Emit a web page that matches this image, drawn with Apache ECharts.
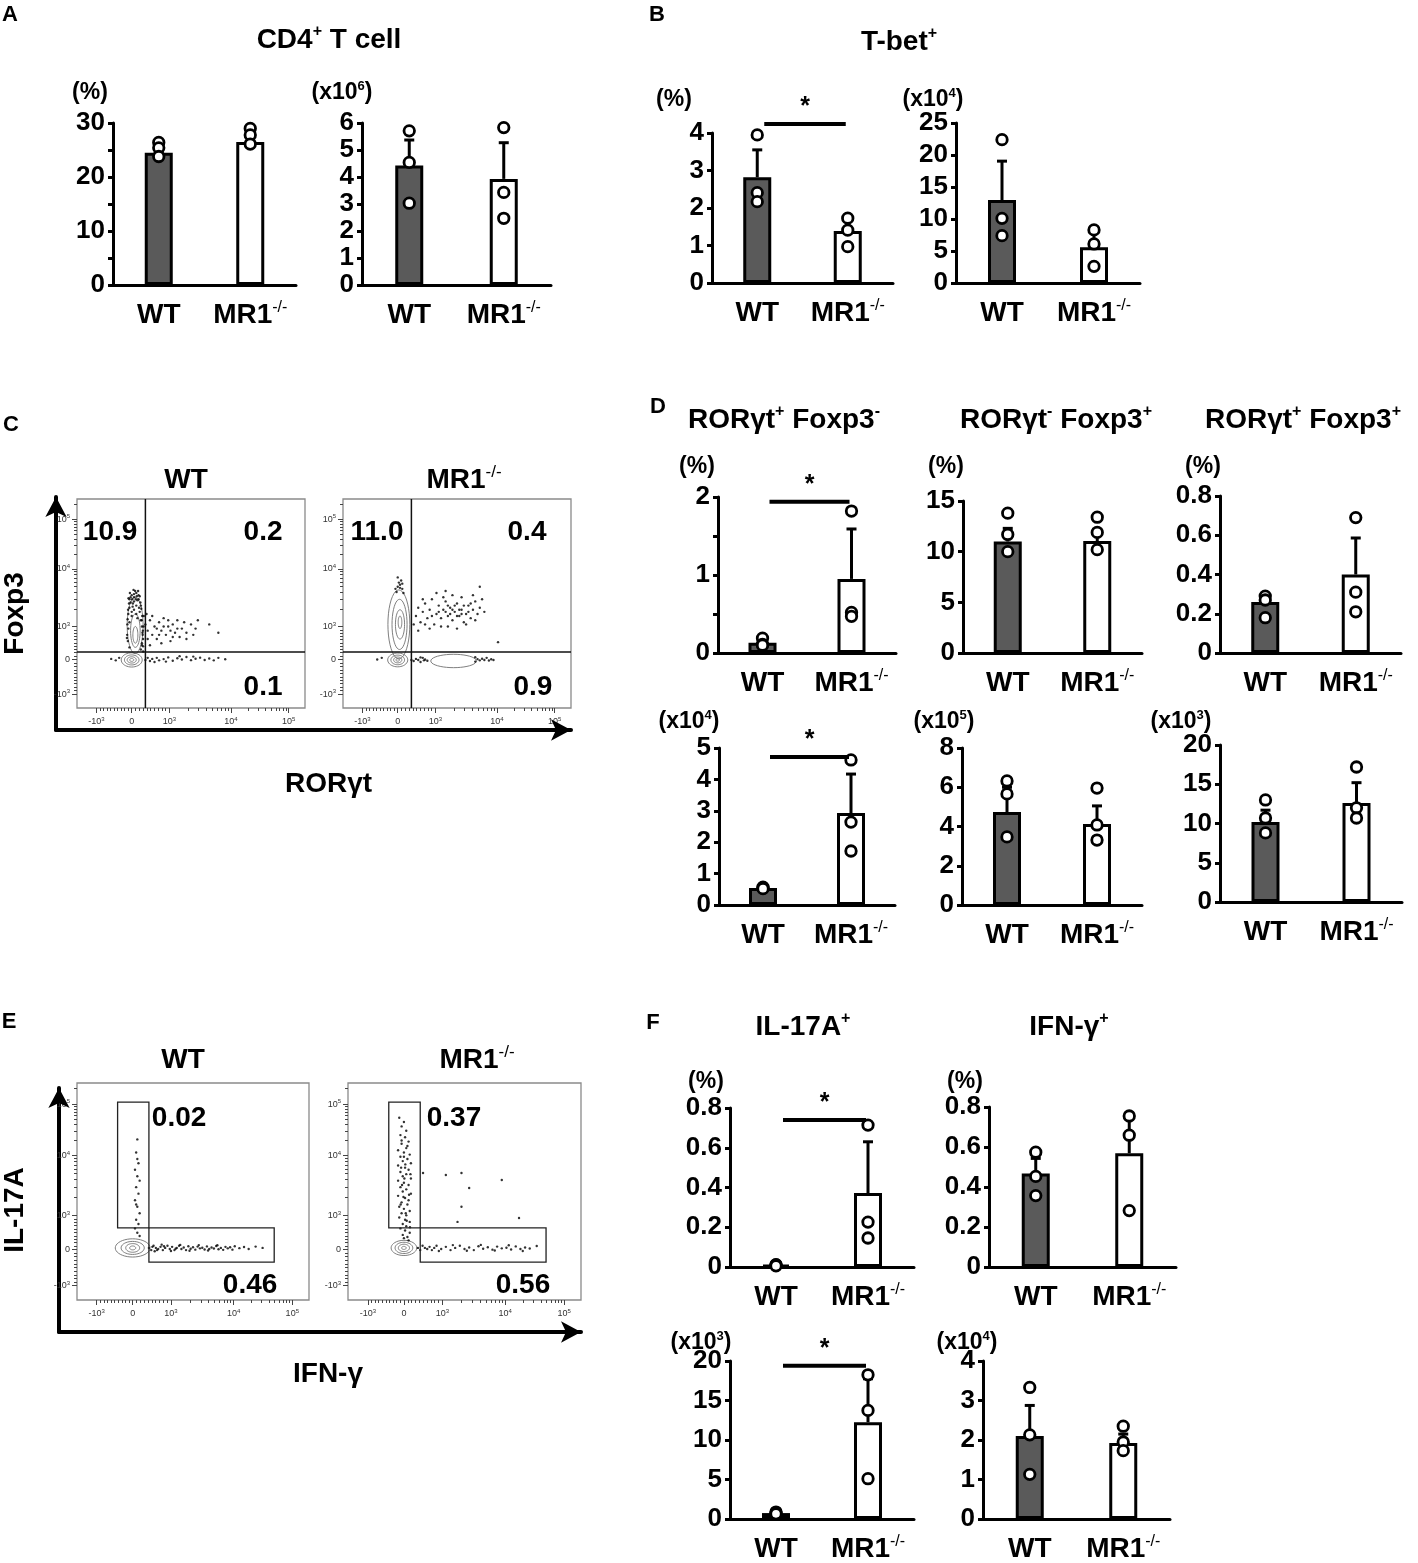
<!DOCTYPE html>
<html>
<head>
<meta charset="utf-8">
<script src="https://cdn.jsdelivr.net/npm/echarts@6/dist/echarts.min.js"></script>
<style>
html, body { margin: 0; background: #fff; }
#main { width: 1418px; height: 1563px; }
</style>
</head>
<body>
<div id="main"></div>
<script>
'use strict';

var FONT = '"Liberation Sans", Arial, Helvetica, sans-serif';
var groups = ['WT', 'MR1-/-'];

// A: CD4+ T cell (% / x10^6)
var a1Mean = [24.5, 26.5], a1Err = [25.8, 28.0], a1Pts = [[26.4, 25.4, 23.8], [29.0, 27.8, 26.1]];
var a2Mean = [4.43, 3.93], a2Err = [5.37, 5.27], a2Pts = [[5.71, 4.54, 3.03], [5.83, 3.43, 2.47]];
// B: T-bet+
var b1Mean = [2.82, 1.39], b1Err = [3.55, 1.75], b1Pts = [[3.95, 2.41, 2.17], [1.73, 1.41, 0.97]];
var b2Mean = [12.97, 5.6], b2Err = [19.04, 8.4], b2Pts = [[22.4, 10.1, 7.4], [8.3, 6.1, 2.6]];
// D: RORgt+ Foxp3- / RORgt- Foxp3+ / RORgt+ Foxp3+
var d1Mean = [0.13, 0.95], d1Err = [0.17, 1.59], d1Pts = [[0.19, 0.11, 0.10], [1.82, 0.52, 0.47]];
var d2Mean = [11.0, 11.05], d2Err = [12.3, 12.2], d2Pts = [[13.8, 11.7, 10.0], [13.4, 11.9, 10.2]];
var d3Mean = [0.26, 0.40], d3Err = [0.30, 0.586], d3Pts = [[0.29, 0.27, 0.18], [0.69, 0.31, 0.21]];
var d4Mean = [0.54, 2.93], d4Err = [0.58, 4.17], d4Pts = [[0.57, 0.54, 0.52], [4.62, 2.64, 1.72]];
var d5Mean = [4.74, 4.13], d5Err = [6.0, 5.05], d5Pts = [[6.32, 5.66, 3.47], [5.96, 4.08, 3.31]];
var d6Mean = [10.2, 12.6], d6Err = [11.7, 15.2], d6Pts = [[13.0, 10.7, 8.8], [17.2, 12.0, 10.7]];
// F: IL-17A+ / IFN-g+
var f1Mean = [0.01, 0.372], f1Err = [0.015, 0.63], f1Pts = [[0.012, 0.01, 0.006], [0.714, 0.226, 0.146]];
var f2Mean = [0.468, 0.569], f2Err = [0.543, 0.765], f2Pts = [[0.574, 0.453, 0.357], [0.755, 0.659, 0.282]];
var f3Mean = [0.75, 12.25], f3Err = [0.8, 17.75], f3Pts = [[0.88, 0.7, 0.65], [18.25, 13.75, 5.1]];
var f4Mean = [2.1, 1.925], f4Err = [2.875, 2.15], f4Pts = [[3.33, 2.13, 1.13], [2.35, 1.95, 1.73]];
// significance bars (*)
var b1Sig = 4.24, d1Sig = 1.94, d4Sig = 4.71, f1Sig = 0.74, f3Sig = 19.4;

// flow plots, display scale 0-100 on both axes
var flowXTicks = [8.5, 24, 40.5, 67.5, 92.8];
var flowYTicks = [6.6, 23.3, 39, 66.5, 90.3];
var flowTickText = ['-10^3', '0', '10^3', '10^4', '10^5'];

// C: Foxp3 vs RORgt
var cQuad = [[30, 0, 30, 100], [0, 26.8, 100, 26.8]];
var cWtPct = [[14.5, 84.2, '10.9'], [81.6, 84.2, '0.2'], [81.6, 10, '0.1']];
var cKoPct = [[14.9, 84.2, '11.0'], [80.7, 84.2, '0.4'], [83.3, 10, '0.9']];
var cWtContours = [[24, 23, 4.6, 3.4], [24, 23, 3.2, 2.4], [24, 23, 2, 1.5], [24, 23, 0.9, 0.7],
    [25.5, 39.5, 3.5, 13.5], [25.6, 37, 2.1, 8], [25.6, 35, 1.1, 4]];
var cKoContours = [[24, 23, 4.4, 3.3], [24, 23, 3, 2.3], [24, 23, 1.8, 1.4], [24, 23, 0.8, 0.6],
    [24.5, 40, 4.8, 16.5], [24.8, 40, 3.3, 12], [25, 40, 2, 7], [25, 41, 0.8, 3], [48.5, 22.5, 10, 3.2]];
var cWtDots = [
    [23, 52], [24, 54], [25, 53], [26, 55], [27, 52], [24.5, 50], [26, 49], [23, 48], [28, 49], [25, 47],
    [22.5, 45], [27.5, 46], [24, 44], [26.5, 43], [23, 41], [28, 42], [22.5, 38], [28.5, 39], [22, 35], [28.8, 35],
    [22.3, 32], [28.5, 31], [23, 29], [28, 28], [25, 51], [26.5, 51.5], [23.5, 50.5], [27, 54], [25.5, 56], [24, 46],
    [26, 45], [23.5, 53], [22.8, 50], [27.8, 50.5], [25, 54.5], [24.2, 52], [26.2, 53.5], [22.4, 47], [28.2, 47.5],
    [23.2, 55], [24.8, 56.5], [26.8, 56], [27.5, 53.5], [22.6, 52.5], [25.8, 52], [24.4, 48.5], [27.2, 48],
    [22.2, 42.5], [28.6, 44], [22.1, 40], [28.9, 37], [21.9, 33.5], [29, 29.5],
    [28.5, 30], [29, 33], [28.7, 36], [29.2, 39], [28.4, 42], [29, 27], [29.3, 44],
    [30, 40], [31, 37], [32, 42], [33, 35], [34, 39], [35, 33], [36, 41], [37, 37], [38, 43], [39, 35],
    [40, 39], [41, 32], [42, 40], [43, 36], [44, 42], [45, 34], [46, 38], [47, 41], [48, 36], [50, 40],
    [52, 38], [53, 42], [31, 33], [33, 44], [35, 38], [37, 31], [40, 42], [42, 34], [44, 38], [30.5, 45],
    [32, 30], [36, 35], [38, 39], [41, 37], [48, 33], [51, 35], [58, 40], [62, 36],
    [30, 23], [31, 24], [32, 22.5], [33, 23.5], [35, 24], [36, 22.8], [38, 23.4], [40, 24.2], [42, 22.6], [44, 23.8],
    [46, 23.2], [48, 24.4], [50, 22.9], [52, 23.6], [54, 24.1], [56, 23], [58, 23.7], [60, 22.8], [62, 24], [65, 23.3],
    [34, 22], [39, 22.2], [45, 24.8], [51, 24.6], [15, 23.5], [17, 22.8], [18.5, 24]
];
var cKoDots = [
    [23, 57], [24, 58], [25, 59], [26, 57], [24.5, 60], [25.5, 61], [23.5, 55.5], [26.5, 55], [24, 62.5], [25, 57.5],
    [26, 59.5],
    [32, 44], [33, 48], [34, 41], [35, 46], [36, 50], [37, 43], [38, 47], [39, 52], [40, 40], [41, 45],
    [42, 49], [43, 43], [44, 47], [45, 51], [46, 44], [47, 48], [48, 42], [49, 46], [50, 50], [51, 44],
    [52, 47], [53, 41], [54, 45], [55, 49], [56, 43], [57, 47], [58, 51], [59, 45], [60, 48], [44, 53],
    [48, 54], [52, 53], [46, 39], [50, 38], [54, 40], [38, 38], [35, 52], [41, 55], [57, 54], [31, 40],
    [33, 37], [45, 46], [47, 45], [49, 49], [51, 47], [53, 49], [55, 46], [50, 44], [48, 47], [52, 45],
    [46, 49], [56, 50], [42, 46], [39, 44], [36, 40], [61, 52], [58, 42], [43, 39], [62, 46], [45, 56],
    [68, 31.5], [60, 58],
    [30, 23], [31, 22.5], [32, 23.5], [33, 23], [34, 22], [35, 24], [36, 23.2], [37, 22.6], [59, 23.4], [60, 22.8],
    [61, 23.6], [62, 23], [63, 24], [64, 22.7], [65, 23.3], [66, 23], [58, 22.2], [58, 24.3], [35.5, 22.8], [34, 24.2],
    [15, 23.2], [17, 24]
];

// E: IL-17A vs IFN-g
var eGates = [[17.5, 33.2, 31, 91.2], [31, 17.5, 85, 33.2]];
var eWtPct = [[44, 83.9, '0.02'], [74.6, 6.9, '0.46']];
var eKoPct = [[45.5, 83.9, '0.37'], [75.1, 6.9, '0.56']];
var eWtContours = [[24, 24, 7.5, 4.2], [24, 24, 5, 3], [24, 24, 3, 2], [24, 24, 1.3, 0.9]];
var eKoContours = [[24, 24, 5.5, 3.5], [24, 24, 3.8, 2.6], [24, 24, 2.4, 1.7], [24, 24, 1, 0.7]];
var eWtDots = [
    [26, 74], [25.5, 68], [26.5, 63], [25, 60], [26, 57], [27, 55], [25.5, 52], [26.5, 49], [25, 46], [26, 43],
    [27, 40], [25.5, 37], [26.5, 35], [25, 33], [26, 31], [27, 29.5], [26, 65], [25.5, 44],
    [31, 24], [32, 23], [33, 25], [34, 24], [35, 23.5], [36, 24.5], [37, 23], [38, 24], [39, 25], [40, 23.5],
    [41, 24.5], [42, 23], [43, 24], [44, 25], [45, 23.5], [46, 24.2], [47, 23], [48, 24.8], [49, 23.6], [50, 24.3],
    [51, 23.2], [52, 24.6], [53, 23.8], [54, 24.1], [55, 23.3], [56, 24.7], [57, 23.5], [58, 24.2], [59, 23.7], [60, 24.9],
    [61, 23.4], [62, 24], [63, 23.1], [64, 24.5], [65, 23.8], [66, 24.3], [67, 23.2], [68, 24.8], [70, 23.9], [72, 24.4],
    [74, 23.5], [77, 24.6], [80, 24], [33.5, 22.5], [36.5, 25.5], [40.5, 22.6], [44.5, 25.4], [48.5, 22.7], [52.5, 25.3],
    [56.5, 22.8], [60.5, 25.2], [32.5, 24.5], [34.5, 23], [37.5, 24.8], [42.5, 23.6]
];
var eKoDots = [
    [22, 84], [24, 82], [23, 80], [25, 78], [22.5, 76], [24.5, 75], [26, 73], [23, 72], [25, 70], [21.5, 69],
    [24, 68], [26.5, 67], [22.5, 66], [25.5, 65], [23.5, 64], [27, 63], [21.5, 62], [24.5, 61], [26, 60], [22.5, 59],
    [25, 58], [23.5, 57], [27, 56], [21.5, 55], [24, 54], [26, 53], [22.5, 52], [25, 51], [23.5, 50], [27, 49],
    [21.5, 48], [24.5, 47], [26, 46], [23, 45], [25.5, 44], [22, 43], [24, 42], [26.5, 41], [23, 40], [25, 39],
    [22, 38], [24.5, 37], [26.5, 36], [23.5, 35], [25, 34], [22.5, 33], [24.5, 32], [26.5, 31], [23.5, 30], [25.5, 29],
    [24, 28.5], [26, 27.5], [23, 73.5], [25.5, 71], [24, 66], [22.8, 61], [26.8, 58], [23.2, 53], [26.2, 48.5], [22.6, 44],
    [24.8, 40], [26.6, 33.5], [24.2, 56], [23.8, 47.5], [25.2, 36.5], [24.6, 62.5],
    [30, 24], [31, 23], [32, 25], [33, 24], [34, 23.5], [35, 24.5], [36, 23], [37, 24], [38, 25], [40, 23.5],
    [42, 24.5], [44, 23], [46, 24], [48, 25], [50, 23.5], [52, 24.2], [54, 23], [56, 24.8], [58, 23.6], [60, 24.3],
    [62, 23.2], [64, 24.6], [66, 23.8], [68, 24.1], [70, 23.3], [72, 24.7], [74, 23.5], [76, 24.2], [78, 23.7], [81, 24.9],
    [39, 22.6], [45, 25.3], [51, 22.7], [57, 25.4], [63, 22.8], [69, 25.2], [75, 22.6],
    [32.2, 58.5], [42, 57.6], [48.7, 58.5], [52, 51.6], [66, 55.3], [48.7, 43], [73.4, 37.8], [47, 36]
];

// ---------- layout ----------
var barLayout = [
    { l: 113, r: 296, t: 123, b: 285, max: 30, step: 5, every: 10 },
    { l: 362, r: 551, t: 123, b: 285, max: 6, step: 1 },
    { l: 712, r: 893, t: 133, b: 283, max: 4, step: 1 },
    { l: 956, r: 1140, t: 123, b: 283, max: 25, step: 5 },
    { l: 718, r: 896, t: 497, b: 653, max: 2, step: 0.5, every: 1 },
    { l: 963, r: 1142, t: 501, b: 653, max: 15, step: 5 },
    { l: 1220, r: 1401, t: 496, b: 653, max: 0.8, step: 0.2 },
    { l: 719, r: 895, t: 748, b: 905, max: 5, step: 1 },
    { l: 962, r: 1142, t: 748, b: 905, max: 8, step: 2 },
    { l: 1220, r: 1402, t: 745, b: 902, max: 20, step: 5 },
    { l: 730, r: 914, t: 1108, b: 1267, max: 0.8, step: 0.2 },
    { l: 989, r: 1176, t: 1107, b: 1267, max: 0.8, step: 0.2 },
    { l: 730, r: 914, t: 1361, b: 1521, max: 20, step: 5 },
    { l: 983, r: 1170, t: 1361, b: 1521, max: 4, step: 1 }
];
var barData = [
    [a1Mean, a1Err, a1Pts, null], [a2Mean, a2Err, a2Pts, null],
    [b1Mean, b1Err, b1Pts, b1Sig], [b2Mean, b2Err, b2Pts, null],
    [d1Mean, d1Err, d1Pts, d1Sig], [d2Mean, d2Err, d2Pts, null], [d3Mean, d3Err, d3Pts, null],
    [d4Mean, d4Err, d4Pts, d4Sig], [d5Mean, d5Err, d5Pts, null], [d6Mean, d6Err, d6Pts, null],
    [f1Mean, f1Err, f1Pts, f1Sig], [f2Mean, f2Err, f2Pts, null],
    [f3Mean, f3Err, f3Pts, f3Sig], [f4Mean, f4Err, f4Pts, null]
];

var flowLayout = [
    { l: 77, t: 499, w: 228, h: 209, dots: cWtDots, cont: cWtContours, lines: cQuad, pct: cWtPct },
    { l: 343, t: 499, w: 228, h: 209, dots: cKoDots, cont: cKoContours, lines: cQuad, pct: cKoPct },
    { l: 77, t: 1083, w: 232, h: 217, dots: eWtDots, cont: eWtContours, gates: eGates, pct: eWtPct },
    { l: 348, t: 1083, w: 233, h: 217, dots: eKoDots, cont: eKoContours, gates: eGates, pct: eKoPct }
];
var arrowLayout = [
    { l: 42, t: 497, w: 529, h: 233, x: 'RORγt', y: 'Foxp3', xGap: 40, yGap: 27, xPad: 30 },
    { l: 45, t: 1088, w: 536, h: 244, x: 'IFN-γ', y: 'IL-17A', xGap: 28, yGap: 30, xPad: 16 }
];

var texts = [
    [10, 15, '{p|A}'], [329, 40, '{t|CD4}{ts|+}{t| T cell}'],
    [90, 93, '{u|(%)}'], [342, 93, '{u|(x10}{us|6}{u|)}'],
    [657, 15, '{p|B}'], [899, 42, '{t|T-bet}{ts|+}'],
    [674, 100, '{u|(%)}'], [933, 100, '{u|(x10}{us|4}{u|)}'],
    [11, 425, '{p|C}'], [186, 480, '{t|WT}'], [464, 480, '{t|MR1}{tk|-/-}'],
    [658, 407, '{p|D}'],
    [784, 420, '{t|RORγt}{ts|+}{t| Foxp3}{ts|-}'],
    [1056, 420, '{t|RORγt}{ts|-}{t| Foxp3}{ts|+}'],
    [1303, 420, '{t|RORγt}{ts|+}{t| Foxp3}{ts|+}'],
    [697, 467, '{u|(%)}'], [946, 467, '{u|(%)}'], [1203, 467, '{u|(%)}'],
    [689, 722, '{u|(x10}{us|4}{u|)}'], [944, 722, '{u|(x10}{us|5}{u|)}'], [1181, 722, '{u|(x10}{us|3}{u|)}'],
    [9, 1022, '{p|E}'], [183, 1060, '{t|WT}'], [477, 1060, '{t|MR1}{tk|-/-}'],
    [653, 1023, '{p|F}'], [803, 1027, '{t|IL-17A}{ts|+}'], [1069, 1027, '{t|IFN-γ}{ts|+}'],
    [706, 1082, '{u|(%)}'], [965, 1082, '{u|(%)}'],
    [701, 1343, '{u|(x10}{us|3}{u|)}'], [967, 1343, '{u|(x10}{us|4}{u|)}']
];

var textRich = {
    p: { fontSize: 22, fontWeight: 'bold', fontFamily: FONT, fill: '#000' },
    t: { fontSize: 28, fontWeight: 'bold', fontFamily: FONT, fill: '#000', lineHeight: 32 },
    ts: { fontSize: 16, fontWeight: 'bold', fontFamily: FONT, fill: '#000', lineHeight: 16, verticalAlign: 'top' },
    tk: { fontSize: 17, fontFamily: FONT, fill: '#000', lineHeight: 17, verticalAlign: 'top' },
    u: { fontSize: 23, fontWeight: 'bold', fontFamily: FONT, fill: '#000', lineHeight: 26 },
    us: { fontSize: 13, fontWeight: 'bold', fontFamily: FONT, fill: '#000', lineHeight: 13, verticalAlign: 'top' }
};

// ---------- helpers ----------
function catLabel(v) {
    var m = v.match(/^(.*?)(-\/-)?$/);
    return '{b|' + m[1] + '}' + (m[2] ? '{s|' + m[2] + '}' : '');
}

function supText(s) {
    return s.replace(/\^(\w+)/g, '{s|$1}');
}

function flowLabel(ticks) {
    return function (v) {
        for (var k = 0; k < ticks.length; k++) {
            if (Math.abs(ticks[k] - v) < 1e-6) return supText(flowTickText[k]);
        }
        return '';
    };
}

function minorTicks(ticks) {
    var out = [], k, j;
    for (k = 1; k < 10; k++) {
        out.push(ticks[0] + (ticks[1] - ticks[0]) * k / 10);
        out.push(ticks[1] + (ticks[2] - ticks[1]) * k / 10);
    }
    for (j = 2; j < 4; j++) {
        for (k = 2; k < 10; k++) {
            out.push(ticks[j] + (ticks[j + 1] - ticks[j]) * Math.log10(k));
        }
    }
    for (k = 2; k < 4; k++) out.push(ticks[4] + (ticks[4] - ticks[3]) * Math.log10(k));
    return out;
}

function errItem(params, api) {
    var x = api.value(0);
    var p0 = api.coord([x, api.value(1)]);
    var p1 = api.coord([x, api.value(2)]);
    var st = { stroke: '#000', lineWidth: 3 };
    return {
        type: 'group',
        children: [
            { type: 'line', shape: { x1: p0[0], y1: p0[1], x2: p1[0], y2: p1[1] }, style: st },
            { type: 'line', shape: { x1: p1[0] - 5, y1: p1[1], x2: p1[0] + 5, y2: p1[1] }, style: st }
        ]
    };
}

function sigItem(params, api) {
    var v = api.value(0);
    var a = api.coord([0, v]), b = api.coord([1, v]);
    var x0 = a[0] + 7, x1 = b[0] - 2;
    return {
        type: 'group',
        children: [
            { type: 'line', shape: { x1: x0, y1: a[1], x2: x1, y2: a[1] }, style: { stroke: '#000', lineWidth: 4 } },
            { type: 'text', x: (x0 + x1) / 2, y: a[1] - 4,
              style: { text: '*', font: 'bold 25px ' + FONT, fill: '#000', align: 'center', verticalAlign: 'bottom' } }
        ]
    };
}

function ellipseItem(params, api) {
    var c = api.coord([api.value(0), api.value(1)]);
    var s = api.size([api.value(2), api.value(3)]);
    var pts = [];
    for (var k = 0; k < 40; k++) {
        var a = k / 40 * Math.PI * 2;
        pts.push([c[0] + s[0] * Math.cos(a), c[1] + s[1] * Math.sin(a)]);
    }
    return { type: 'polygon', shape: { points: pts }, style: { fill: 'none', stroke: '#707070', lineWidth: 0.9 } };
}

function lineItem(params, api) {
    var a = api.coord([api.value(0), api.value(1)]);
    var b = api.coord([api.value(2), api.value(3)]);
    return { type: 'line', shape: { x1: a[0], y1: a[1], x2: b[0], y2: b[1] }, style: { stroke: '#111', lineWidth: 1.5 } };
}

function gateItem(params, api) {
    var a = api.coord([api.value(0), api.value(3)]);
    var b = api.coord([api.value(2), api.value(1)]);
    return { type: 'rect', shape: { x: a[0], y: a[1], width: b[0] - a[0], height: b[1] - a[1] },
             style: { fill: 'none', stroke: '#222', lineWidth: 1.3 } };
}

function pctRenderer(rows) {
    return function (params, api) {
        var c = api.coord([api.value(0), api.value(1)]);
        return { type: 'text', x: c[0], y: c[1],
                 style: { text: rows[params.dataIndex][2], font: 'bold 28px ' + FONT, fill: '#000',
                          align: 'center', verticalAlign: 'middle' } };
    };
}

// ---------- build ----------
var grid = [], xAxis = [], yAxis = [], series = [], graphic = [];

barLayout.forEach(function (p, i) {
    var d = barData[i];
    grid.push({ left: p.l, top: p.t, width: p.r - p.l, height: p.b - p.t });
    xAxis.push({
        type: 'category', gridIndex: i, data: groups,
        axisLine: { lineStyle: { color: '#000', width: 3 } },
        axisTick: { show: false },
        axisLabel: {
            interval: 0, hideOverlap: false, margin: 15, formatter: catLabel, color: '#000',
            rich: {
                b: { fontSize: 28, fontWeight: 'bold', fontFamily: FONT, color: '#000', lineHeight: 30 },
                s: { fontSize: 16, fontFamily: FONT, color: '#000', lineHeight: 16, verticalAlign: 'top' }
            }
        }
    });
    yAxis.push({
        type: 'value', gridIndex: i, min: 0, max: p.max, interval: p.step,
        axisLine: { show: true, lineStyle: { color: '#000', width: 3 } },
        axisTick: { show: true, length: 5, lineStyle: { color: '#000', width: 3 } },
        splitLine: { show: false },
        axisLabel: {
            margin: 8, color: '#000', fontSize: 26, fontWeight: 'bold', fontFamily: FONT,
            formatter: function (v) {
                var e = p.every || p.step;
                var r = v / e;
                if (Math.abs(r - Math.round(r)) > 1e-6) return '';
                return String(+v.toFixed(2));
            }
        }
    });
    series.push({
        type: 'bar', xAxisIndex: i, yAxisIndex: i, barWidth: 28, z: 2, silent: true,
        itemStyle: { borderColor: '#000', borderWidth: 3 },
        data: d[0].map(function (v, k) { return { value: v, itemStyle: { color: k ? '#fff' : '#5a5a5a' } }; })
    });
    series.push({
        type: 'custom', xAxisIndex: i, yAxisIndex: i, z: 3, silent: true, clip: false,
        renderItem: errItem,
        data: d[0].map(function (v, k) { return [k, v, d[1][k]]; })
    });
    var pts = [];
    d[2].forEach(function (arr, k) { arr.forEach(function (v) { pts.push([k, v]); }); });
    series.push({
        type: 'scatter', xAxisIndex: i, yAxisIndex: i, z: 4, silent: true,
        symbol: 'circle', symbolSize: 10.5,
        itemStyle: { color: '#fff', borderColor: '#000', borderWidth: 2.8, opacity: 1 },
        data: pts
    });
    if (d[3] !== null) {
        series.push({
            type: 'custom', xAxisIndex: i, yAxisIndex: i, z: 5, silent: true, clip: false,
            renderItem: sigItem, data: [[d[3]]]
        });
    }
});

var xMinor = minorTicks(flowXTicks), yMinor = minorTicks(flowYTicks);
var tickRich = { s: { fontSize: 6, color: '#333', fontFamily: FONT, verticalAlign: 'top', lineHeight: 6 } };

flowLayout.forEach(function (f) {
    var g = grid.length;
    grid.push({ left: f.l, top: f.t, width: f.w, height: f.h, show: true, borderColor: '#8a8a8a', borderWidth: 1.3 });
    var xi = xAxis.length, yi = yAxis.length;
    xAxis.push({
        type: 'value', gridIndex: g, min: 0, max: 100, position: 'bottom',
        axisLine: { show: false }, splitLine: { show: false },
        axisTick: { show: true, customValues: flowXTicks, length: 5, lineStyle: { color: '#444', width: 1 } },
        axisLabel: { show: true, customValues: flowXTicks, formatter: flowLabel(flowXTicks),
                     fontSize: 9, color: '#333', fontFamily: FONT, margin: 8, lineHeight: 11, rich: tickRich }
    });
    xAxis.push({
        type: 'value', gridIndex: g, min: 0, max: 100, position: 'bottom',
        axisLine: { show: false }, splitLine: { show: false }, axisLabel: { show: false },
        axisTick: { show: true, customValues: xMinor, length: 3, lineStyle: { color: '#444', width: 1 } }
    });
    yAxis.push({
        type: 'value', gridIndex: g, min: 0, max: 100, position: 'left',
        axisLine: { show: false }, splitLine: { show: false },
        axisTick: { show: true, customValues: flowYTicks, length: 5, lineStyle: { color: '#444', width: 1 } },
        axisLabel: { show: true, customValues: flowYTicks, formatter: flowLabel(flowYTicks),
                     fontSize: 9, color: '#333', fontFamily: FONT, margin: 7, lineHeight: 11, rich: tickRich }
    });
    yAxis.push({
        type: 'value', gridIndex: g, min: 0, max: 100, position: 'left',
        axisLine: { show: false }, splitLine: { show: false }, axisLabel: { show: false },
        axisTick: { show: true, customValues: yMinor, length: 3, lineStyle: { color: '#444', width: 1 } }
    });
    series.push({
        type: 'custom', xAxisIndex: xi, yAxisIndex: yi, z: 2, silent: true,
        renderItem: ellipseItem, data: f.cont
    });
    series.push({
        type: 'scatter', xAxisIndex: xi, yAxisIndex: yi, z: 3, silent: true,
        symbol: 'circle', symbolSize: 2.4, itemStyle: { color: '#000' }, data: f.dots
    });
    if (f.lines) {
        series.push({ type: 'custom', xAxisIndex: xi, yAxisIndex: yi, z: 4, silent: true,
                      renderItem: lineItem, data: f.lines });
    }
    if (f.gates) {
        series.push({ type: 'custom', xAxisIndex: xi, yAxisIndex: yi, z: 4, silent: true,
                      renderItem: gateItem, data: f.gates });
    }
    series.push({ type: 'custom', xAxisIndex: xi, yAxisIndex: yi, z: 5, silent: true, clip: false,
                  renderItem: pctRenderer(f.pct),
                  data: f.pct.map(function (r) { return [r[0], r[1]]; }) });
});

arrowLayout.forEach(function (a) {
    var g = grid.length;
    grid.push({ left: a.l, top: a.t, width: a.w, height: a.h });
    var nameStyle = { fontSize: 28, fontWeight: 'bold', color: '#000', fontFamily: FONT };
    xAxis.push({
        type: 'value', gridIndex: g, min: 0, max: 1,
        axisLine: { show: true, symbol: ['none', 'arrow'], symbolSize: [16, 20], lineStyle: { color: '#000', width: 4 } },
        axisTick: { show: false }, axisLabel: { show: false }, splitLine: { show: false },
        name: a.x, nameLocation: 'middle', nameGap: a.xGap,
        nameTextStyle: Object.assign({ padding: [0, 0, 0, a.xPad] }, nameStyle)
    });
    yAxis.push({
        type: 'value', gridIndex: g, min: 0, max: 1,
        axisLine: { show: true, symbol: ['none', 'arrow'], symbolSize: [16, 20], lineStyle: { color: '#000', width: 4 } },
        axisTick: { show: false }, axisLabel: { show: false }, splitLine: { show: false },
        name: a.y, nameLocation: 'middle', nameGap: a.yGap, nameTextStyle: nameStyle
    });
});

texts.forEach(function (t) {
    graphic.push({
        type: 'text', x: t[0], y: t[1], silent: true,
        style: { text: t[2], rich: textRich, align: 'center', verticalAlign: 'middle', fill: '#000',
                 font: 'bold 24px ' + FONT }
    });
});

var chart = echarts.init(document.getElementById('main'), null, { renderer: 'canvas' });
chart.setOption({
    animation: false,
    backgroundColor: '#fff',
    grid: grid,
    xAxis: xAxis,
    yAxis: yAxis,
    series: series,
    graphic: graphic
});
</script>
</body>
</html>
